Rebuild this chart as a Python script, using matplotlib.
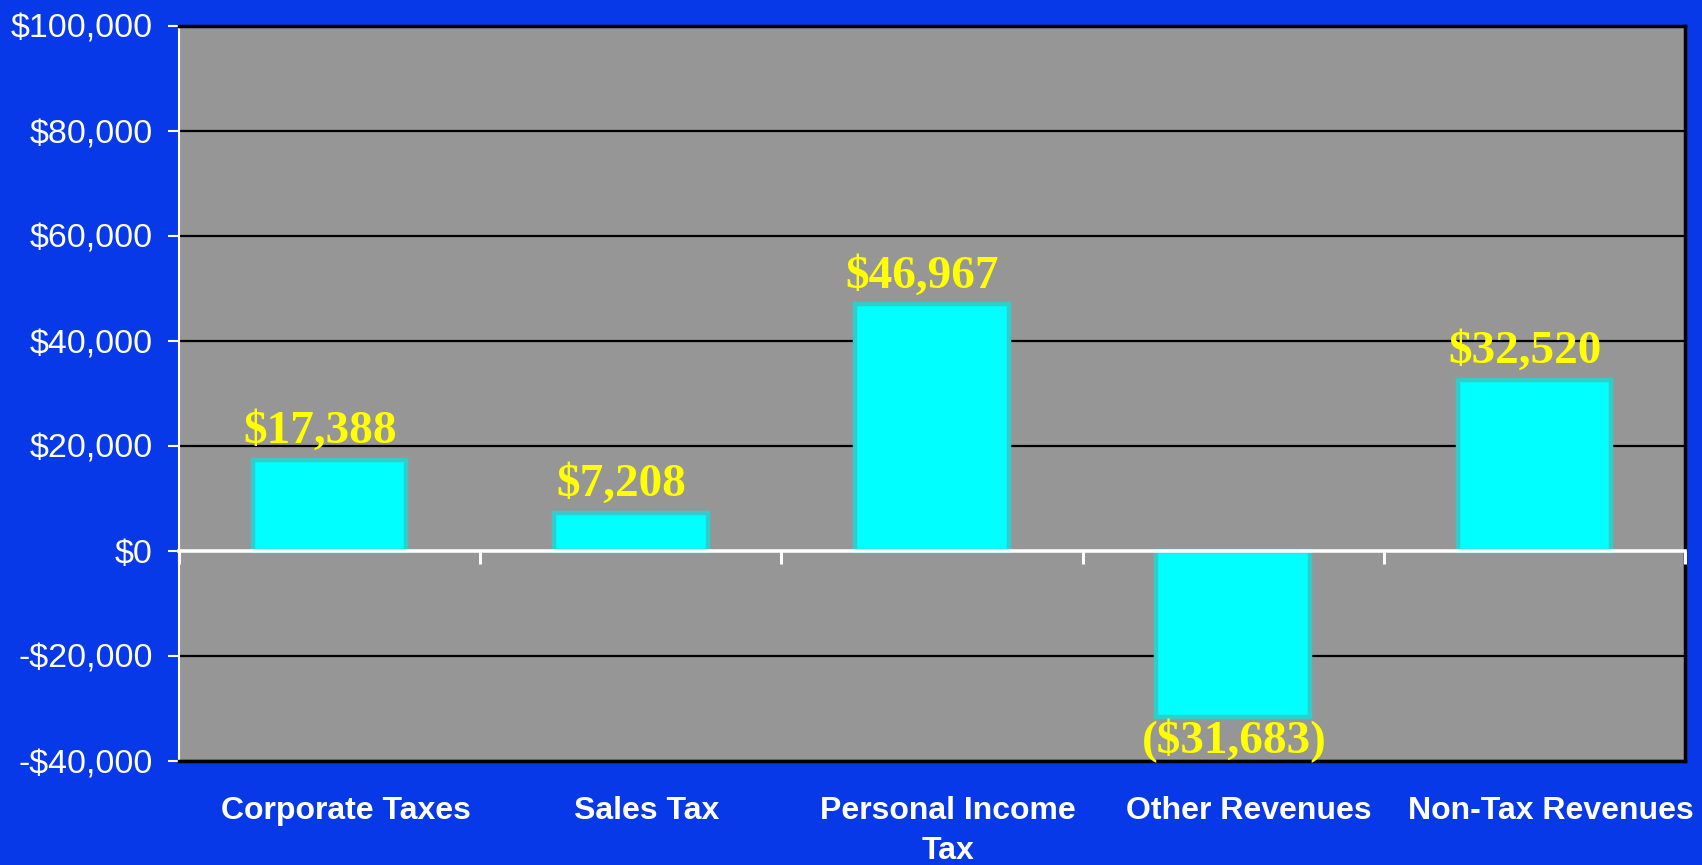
import matplotlib
matplotlib.use("Agg")
import matplotlib.pyplot as plt
import matplotlib.transforms as mtransforms
from matplotlib.ticker import FuncFormatter, MultipleLocator

categories = ["Corporate Taxes", "Sales Tax", "Personal Income\nTax", "Other Revenues", "Non-Tax Revenues"]
values = [17388, 7208, 46967, -31683, 32520]
value_labels = ["$17,388", "$7,208", "$46,967", "($31,683)", "$32,520"]

BG = "#0839E8"
PLOT_BG = "#969696"

fig = plt.figure(figsize=(17.02, 8.65), dpi=100, facecolor=BG)
ax = fig.add_axes([179/1702, 1-761/865, (1685-179)/1702, (761-26)/865])
ax.set_facecolor(PLOT_BG)

x = list(range(len(categories)))
bars = ax.bar(x, values, width=0.51, color="#00FFFF", edgecolor="#33CCCC", linewidth=3.2, zorder=3)

ax.set_xlim(-0.5, len(categories) - 0.5)
ax.set_ylim(-40000, 100000)
ax.yaxis.set_major_locator(MultipleLocator(20000))

def fmt(v, pos):
    v = int(round(v))
    if v < 0:
        return "-${:,}".format(-v)
    return "${:,}".format(v)
ax.yaxis.set_major_formatter(FuncFormatter(fmt))

ax.grid(axis="y", color="black", linewidth=1.6, zorder=1)
ax.set_axisbelow(True)

for s in ["top", "right", "bottom"]:
    ax.spines[s].set_color("black")
    ax.spines[s].set_linewidth(2.5)
ax.spines["left"].set_color("white")
ax.spines["left"].set_linewidth(1.5)

ax.tick_params(axis="y", colors="white", length=8, width=1.5, pad=11, labelsize=24.5)
for t in ax.get_yticklabels():
    t.set_fontfamily("Liberation Sans")

ax.set_xticks(x)
ax.set_xticklabels(categories, fontfamily="Liberation Sans", fontweight="bold", fontsize=23, color="white", linespacing=1.45)
ax.tick_params(axis="x", length=0, pad=25)
offset = mtransforms.ScaledTranslation(16/100, 0, fig.dpi_scale_trans)
for t in ax.get_xticklabels():
    t.set_transform(t.get_transform() + offset)

# zero axis line with category-boundary ticks
zero_frac = (0 - (-40000)) / (100000 - (-40000))
sec = ax.secondary_xaxis(zero_frac)
sec.set_zorder(6)
sec.set_xticks([i - 0.5 for i in range(len(categories) + 1)])
sec.set_xticklabels([])
sec.tick_params(axis="x", direction="out", length=9, width=2.2, colors="white")
sec.spines["bottom"].set_color("white")
sec.spines["bottom"].set_linewidth(2.6)
for s in ["top", "left", "right"]:
    if s in sec.spines:
        sec.spines[s].set_visible(False)

for xi, v, lab in zip(x, values, value_labels):
    if v >= 0:
        ax.annotate(lab, (xi, v), xytext=(-7, 5), textcoords="offset points",
                    ha="center", va="bottom", color="#FFFF00", fontsize=34,
                    fontweight="bold", fontfamily="Liberation Serif", zorder=7)
    else:
        ax.annotate(lab, (xi, v), xytext=(1, -1), textcoords="offset points",
                    ha="center", va="top", color="#FFFF00", fontsize=34,
                    fontweight="bold", fontfamily="Liberation Serif", zorder=7)

fig.savefig("out.png", dpi=100, facecolor=BG)
